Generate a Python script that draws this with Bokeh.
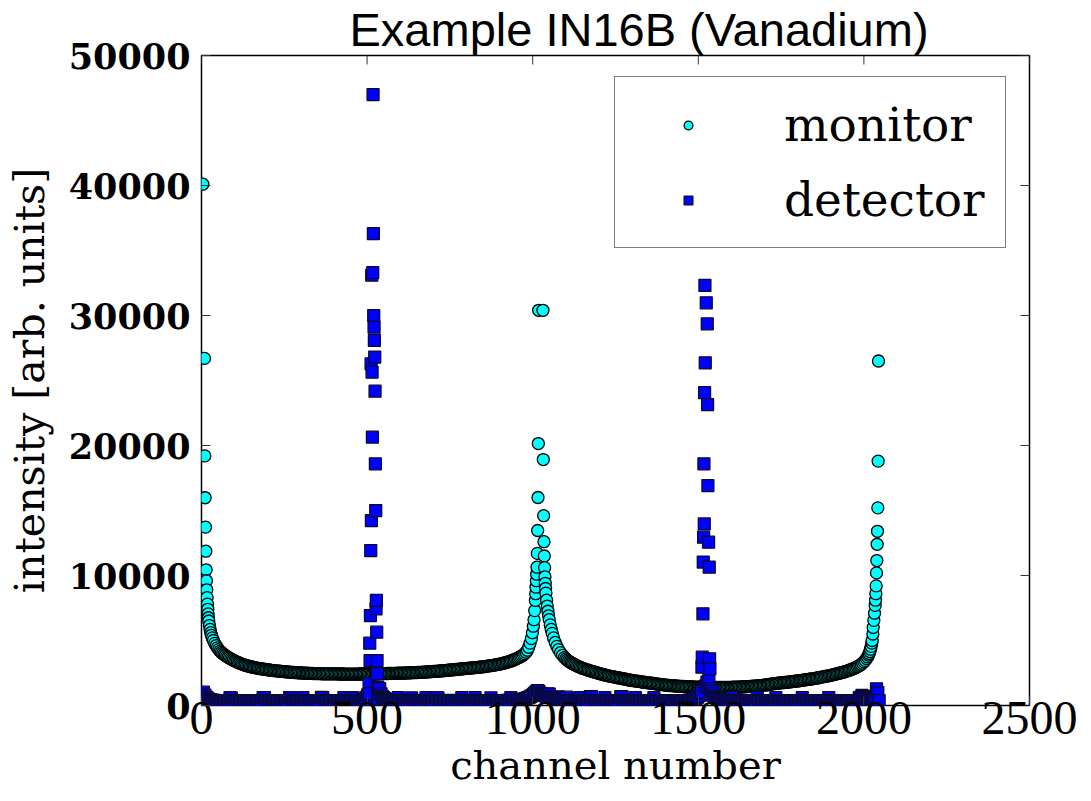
import math
from bokeh.plotting import figure
from bokeh.models import (Range1d, FixedTicker, Legend, LegendItem, ColumnDataSource)
from bokeh.embed import file_html
from bokeh.resources import INLINE

# ---------------- data ----------------
title_text = "Example IN16B (Vanadium)"
x_label = "channel number"
y_label = "intensity [arb. units]"
x_ticks = [0, 500, 1000, 1500, 2000, 2500]
y_ticks = [0, 10000, 20000, 30000, 40000, 50000]

# ---- monitor, first half ----
monitor_a_head_ch = [4, 9, 10, 11, 12, 13, 14, 15, 16, 17, 18, 19, 20, 21, 22,
                     24, 26, 28, 30, 33, 36, 40, 44, 48, 52, 56, 60]
monitor_a_head_counts = [40100, 26700, 19200, 15980, 13720, 11870, 10440, 9600, 8900, 8300, 7800, 7400,
                         7050, 6750, 6500, 6150, 5850, 5600, 5400, 5200, 5000, 4780, 4600, 4440, 4300,
                         4180, 4080]
monitor_a_flat_ch = list(range(64, 996, 4))
monitor_a_flat_counts = [
    4000, 3920, 3850, 3780, 3710, 3650, 3590, 3530, 3480, 3430, 3380, 3335, 3290, 3245, 3200, 3165,
    3130, 3100, 3070, 3040, 3010, 2985, 2960, 2940, 2920, 2900, 2880, 2860, 2840, 2825, 2810, 2795,
    2780, 2765, 2750, 2735, 2720, 2705, 2690, 2680, 2670, 2660, 2650, 2640, 2630, 2620, 2610, 2600,
    2590, 2580, 2570, 2560, 2550, 2545, 2540, 2530, 2525, 2515, 2510, 2505, 2500, 2495, 2490, 2485,
    2480, 2475, 2470, 2465, 2460, 2458, 2455, 2452, 2450, 2448, 2445, 2442, 2440, 2440, 2440, 2438,
    2435, 2435, 2435, 2432, 2430, 2430, 2430, 2428, 2425, 2425, 2425, 2422, 2420, 2420, 2420, 2420,
    2420, 2420, 2420, 2420, 2420, 2420, 2420, 2422, 2425, 2425, 2425, 2428, 2430, 2430, 2430, 2432,
    2435, 2438, 2440, 2440, 2440, 2442, 2445, 2448, 2450, 2452, 2455, 2458, 2460, 2462, 2465, 2468,
    2470, 2472, 2475, 2478, 2480, 2485, 2490, 2492, 2495, 2498, 2500, 2505, 2510, 2515, 2520, 2522,
    2525, 2530, 2535, 2540, 2545, 2550, 2555, 2560, 2565, 2572, 2580, 2588, 2595, 2602, 2610, 2618,
    2625, 2632, 2640, 2648, 2655, 2662, 2670, 2680, 2690, 2700, 2710, 2720, 2730, 2740, 2750, 2760,
    2770, 2780, 2790, 2800, 2810, 2820, 2830, 2840, 2850, 2860, 2870, 2880, 2890, 2900, 2910, 2920,
    2930, 2940, 2950, 2962, 2975, 2988, 3000, 3015, 3030, 3045, 3060, 3075, 3090, 3108, 3125, 3142,
    3160, 3180, 3200, 3225, 3250, 3280, 3310, 3340, 3370, 3405, 3440, 3480, 3520, 3565, 3610, 3660,
    3710, 3770, 3830, 3900, 3990, 4100, 4250, 4480, 4800]
monitor_a_tail_ch = [996, 999, 1002, 1004, 1006, 1008, 1009, 1010, 1011, 1012, 1013, 1014, 1015,
                     1016, 1017, 1018]
monitor_a_tail_counts = [5150, 5600, 6100, 6600, 7300, 8080, 8600, 9100, 9600, 10100, 10640, 11700,
                         13460, 16000, 20150, 30400]

# ---- monitor, second half ----
monitor_b_head_ch = [1031, 1032, 1033, 1034, 1035, 1036, 1037, 1038, 1039, 1040, 1042, 1044, 1046,
                     1048, 1050, 1053, 1056, 1059, 1063, 1068, 1073, 1078, 1084, 1090, 1096, 1100]
monitor_b_head_counts = [30400, 18920, 14600, 12600, 11500, 10600, 9900, 9400, 9000, 8650, 8100, 7650,
                         7250, 6900, 6600, 6200, 5850, 5550, 5200, 4850, 4550, 4300, 4060, 3860,
                         3690, 3590]
monitor_b_flat_ch = list(range(1104, 2004, 4))
monitor_b_flat_counts = [
    3500, 3420, 3350, 3290, 3230, 3175, 3120, 3070, 3020, 2975, 2930, 2890, 2850, 2815, 2780, 2745,
    2710, 2680, 2650, 2620, 2590, 2560, 2530, 2500, 2470, 2440, 2410, 2385, 2360, 2335, 2310, 2285,
    2260, 2240, 2220, 2200, 2180, 2160, 2140, 2120, 2100, 2080, 2060, 2040, 2020, 2000, 1980, 1960,
    1940, 1925, 1910, 1895, 1880, 1865, 1850, 1835, 1820, 1805, 1790, 1775, 1760, 1748, 1735, 1722,
    1710, 1698, 1685, 1668, 1650, 1638, 1625, 1612, 1600, 1588, 1575, 1562, 1550, 1540, 1530, 1522,
    1515, 1508, 1500, 1492, 1485, 1478, 1470, 1465, 1460, 1455, 1450, 1445, 1440, 1435, 1430, 1425,
    1420, 1415, 1410, 1408, 1405, 1402, 1400, 1398, 1395, 1392, 1390, 1390, 1390, 1388, 1385, 1385,
    1385, 1385, 1385, 1385, 1385, 1388, 1390, 1390, 1390, 1392, 1395, 1398, 1400, 1402, 1405, 1408,
    1410, 1415, 1420, 1425, 1430, 1435, 1440, 1445, 1450, 1458, 1465, 1472, 1480, 1488, 1495, 1502,
    1510, 1520, 1530, 1540, 1550, 1565, 1580, 1598, 1615, 1632, 1650, 1665, 1680, 1690, 1700, 1712,
    1725, 1738, 1750, 1760, 1770, 1780, 1790, 1802, 1815, 1828, 1840, 1852, 1865, 1878, 1890, 1905,
    1920, 1935, 1950, 1965, 1980, 1995, 2010, 2025, 2040, 2055, 2070, 2085, 2100, 2120, 2140, 2160,
    2180, 2200, 2220, 2240, 2260, 2280, 2300, 2325, 2350, 2375, 2400, 2425, 2450, 2475, 2500, 2525,
    2550, 2580, 2610, 2645, 2680, 2715, 2750, 2790, 2830, 2875, 2920, 2975, 3030, 3100, 3170, 3260,
    3360]
monitor_b_tail_ch = [2004, 2008, 2011, 2014, 2016, 2018, 2020, 2022, 2024, 2025, 2027, 2028, 2030,
                     2032, 2034, 2035, 2036, 2037, 2038, 2039, 2040, 2041, 2042, 2043, 2044]
monitor_b_tail_counts = [3470, 3610, 3740, 3880, 4000, 4150, 4330, 4550, 4800, 5000, 5500, 6000, 6550,
                         7100, 7700, 8100, 8600, 9200, 10200, 11150, 12400, 13400, 15200, 18800, 26500]

# ---- detector: background, every 4th channel from channel 2 ----
detector_base_ch = list(range(2, 2048, 4))
detector_base_counts = [
    900, 1020, 800, 650, 560, 480, 450, 420, 400, 390, 380, 370, 380, 370, 380, 370,
    380, 370, 380, 370, 380, 600, 580, 370, 380, 370, 380, 370, 380, 370, 380, 370,
    380, 370, 380, 370, 380, 370, 380, 370, 380, 370, 380, 370, 380, 370, 600, 610,
    380, 370, 380, 370, 380, 370, 380, 370, 380, 370, 380, 370, 380, 370, 380, 370,
    380, 370, 600, 590, 380, 370, 380, 370, 380, 370, 380, 370, 600, 380, 370, 380,
    370, 380, 370, 380, 370, 380, 370, 380, 370, 380, 620, 600, 380, 370, 380, 370,
    380, 370, 380, 370, 380, 370, 380, 370, 380, 370, 380, 600, 380, 370, 380, 370,
    380, 600, 590, 380, 370, 380, 370, 380, 390, 400, 430, 480, 620, 820, 1000, 1000,
    1000, 1000, 1000, 1000, 1000, 1000, 1300, 900, 700, 600, 520, 460, 420, 400, 390, 380,
    370, 380, 370, 380, 600, 380, 370, 380, 370, 380, 370, 380, 370, 380, 590, 380,
    370, 380, 370, 380, 370, 380, 390, 370, 380, 600, 380, 370, 380, 370, 380, 370,
    380, 600, 590, 380, 370, 380, 370, 380, 370, 380, 370, 380, 390, 380, 370, 380,
    370, 380, 370, 380, 600, 380, 370, 380, 370, 380, 370, 380, 370, 380, 600, 380,
    370, 380, 370, 380, 370, 380, 370, 380, 380, 370, 590, 380, 370, 380, 370, 380,
    370, 380, 370, 380, 370, 380, 390, 400, 380, 600, 380, 390, 400, 410, 420, 430,
    440, 460, 480, 500, 530, 560, 600, 640, 700, 760, 850, 950, 1050, 1150, 1100, 950,
    900, 850, 800, 750, 700, 900, 880, 650, 640, 600, 560, 520, 640, 650, 500, 470,
    450, 430, 420, 640, 400, 390, 380, 380, 370, 380, 370, 380, 370, 600, 380, 370,
    380, 370, 380, 370, 380, 690, 680, 380, 370, 380, 370, 380, 370, 380, 370, 380,
    600, 380, 370, 380, 370, 380, 370, 380, 370, 380, 370, 380, 680, 670, 380, 370,
    380, 370, 380, 370, 380, 370, 380, 600, 380, 370, 380, 370, 380, 370, 380, 370,
    380, 370, 380, 370, 380, 600, 380, 370, 380, 370, 380, 370, 380, 370, 380, 370,
    380, 370, 380, 370, 380, 370, 380, 370, 380, 370, 380, 370, 380, 370, 380, 390,
    400, 420, 440, 470, 500, 560, 640, 760, 950, 1000, 1000, 1000, 1500, 1800, 1400, 1000,
    1000, 1100, 900, 700, 600, 520, 470, 440, 420, 400, 390, 380, 380, 370, 380, 370,
    600, 380, 370, 380, 370, 380, 370, 380, 370, 380, 370, 380, 370, 380, 370, 380,
    370, 380, 370, 600, 380, 370, 380, 370, 380, 370, 380, 370, 380, 370, 380, 370,
    380, 600, 380, 370, 380, 370, 380, 370, 380, 370, 380, 370, 380, 370, 380, 370,
    380, 370, 380, 370, 380, 600, 380, 370, 380, 370, 380, 370, 380, 370, 380, 370,
    380, 370, 380, 370, 380, 370, 380, 370, 380, 600, 380, 370, 380, 370, 380, 370,
    380, 370, 380, 370, 380, 370, 380, 370, 380, 370, 380, 370, 380, 370, 380, 370,
    600, 620, 770, 700, 600, 520, 470, 440, 430, 450, 490, 560, 700, 1280, 1000, 380]

# ---- detector: elastic peaks ----
detector_peak1_ch = [506, 507, 508, 509, 510, 511, 512, 513, 514, 515, 516, 517, 518, 519, 520,
                     521, 522, 523, 524, 525, 526, 527, 528, 529, 530, 531, 532, 533, 534, 535]
detector_peak1_counts = [1670, 920, 4790, 3460, 6920, 11920, 26280, 14230, 33100, 25640, 20640, 33300,
                         47000, 36300, 30000, 29100, 28080, 26800, 24180, 18590, 15000, 7440, 8080,
                         5640, 3460, 2440, 1400, 900, 700, 500]
detector_peak2_ch = [1510, 1511, 1512, 1514, 1515, 1516, 1517, 1518, 1519, 1520, 1521, 1524, 1527,
                     1528, 1529, 1531, 1532, 1533, 1534, 1535, 1536, 1538]
detector_peak2_counts = [1020, 2950, 3720, 7050, 11030, 12950, 18590, 13970, 24060, 32310, 26360, 30980,
                         29360, 23150, 16920, 12560, 2050, 10640, 3590, 2820, 1300, 800]

# ---------------- assemble ----------------
pairs = [(monitor_a_head_ch, monitor_a_head_counts), (monitor_a_flat_ch, monitor_a_flat_counts),
         (monitor_a_tail_ch, monitor_a_tail_counts), (monitor_b_head_ch, monitor_b_head_counts),
         (monitor_b_flat_ch, monitor_b_flat_counts), (monitor_b_tail_ch, monitor_b_tail_counts),
         (detector_base_ch, detector_base_counts), (detector_peak1_ch, detector_peak1_counts),
         (detector_peak2_ch, detector_peak2_counts)]
for i, (a, b) in enumerate(pairs):
    assert len(a) == len(b), (i, len(a), len(b))

mon_x = (monitor_a_head_ch + monitor_a_flat_ch + monitor_a_tail_ch +
         monitor_b_head_ch + monitor_b_flat_ch + monitor_b_tail_ch)
mon_y = (monitor_a_head_counts + monitor_a_flat_counts + monitor_a_tail_counts +
         monitor_b_head_counts + monitor_b_flat_counts + monitor_b_tail_counts)

peak_set = set(detector_peak1_ch) | set(detector_peak2_ch)
det_pts = [(c, v) for c, v in zip(detector_base_ch, detector_base_counts) if c not in peak_set]
det_pts += list(zip(detector_peak1_ch, detector_peak1_counts))
det_pts += list(zip(detector_peak2_ch, detector_peak2_counts))
det_pts.sort()
det_x = [c for c, v in det_pts]
det_y = [v for c, v in det_pts]

# ---------------- figure ----------------
W, H = 1088, 798
FL, FT, FR, FB = 201, 55, 1029, 705      # frame edges in page pixels
X0, X1 = x_ticks[0], x_ticks[-1]
Y0, Y1 = y_ticks[0], y_ticks[-1]
p = figure(width=W, height=H, output_backend="svg", toolbar_location=None,
           x_range=Range1d(X0, X1), y_range=Range1d(Y0, Y1),
           min_border_left=FL, min_border_right=W - FR, min_border_top=FT,
           min_border_bottom=H - FB)
p.background_fill_color = "white"
p.border_fill_color = "white"
p.grid.visible = False
p.outline_line_color = "black"
p.outline_line_width = 1.5

p.title.text = title_text
p.title.text_font = "Liberation Sans"
p.title.text_font_size = "47px"
p.title.text_font_style = "normal"
p.title.text_color = "black"
p.title.align = "left"
p.title.offset = 148
p.title.standoff = 0

tick_col = "#333333"

p.xaxis.ticker = FixedTicker(ticks=x_ticks)
p.yaxis.ticker = FixedTicker(ticks=y_ticks)
for ax in (p.xaxis[0], p.yaxis[0]):
    ax.axis_line_color = None
    ax.major_tick_in = 9
    ax.major_tick_out = 0
    ax.major_tick_line_color = tick_col
    ax.major_tick_line_width = 1
    ax.minor_tick_line_color = None
    ax.axis_label_text_font_style = "normal"
    ax.axis_label_text_color = "black"
    ax.major_label_text_color = "black"

p.xaxis.axis_label = x_label
p.xaxis.axis_label_text_font = "DejaVu Serif"
p.xaxis.axis_label_text_font_size = "40px"
p.xaxis.axis_label_standoff = 5
p.xaxis.major_label_text_font = "Liberation Serif"
p.xaxis.major_label_text_font_size = "48px"
p.xaxis.major_label_standoff = -4

p.yaxis.axis_label = y_label
p.yaxis.axis_label_text_font = "DejaVu Serif"
p.yaxis.axis_label_text_font_size = "41px"
p.yaxis.axis_label_standoff = 12
p.yaxis.major_label_text_font = "DejaVu Serif"
p.yaxis.major_label_text_font_style = "bold"
p.yaxis.major_label_text_font_size = "35px"
p.yaxis.major_label_standoff = 11
p.yaxis.major_label_orientation = "horizontal"

# inward tick marks on the top and right spines (half of each dash is clipped by the frame)
top_src = ColumnDataSource(dict(x=x_ticks, y=[Y1] * len(x_ticks)))
right_src = ColumnDataSource(dict(x=[X1] * len(y_ticks), y=y_ticks))
p.scatter("x", "y", source=top_src, marker="dash", angle=math.pi / 2, size=18,
          line_color=tick_col, line_width=1)
p.scatter("x", "y", source=right_src, marker="dash", angle=0, size=18,
          line_color=tick_col, line_width=1)

src_mon = ColumnDataSource(dict(x=mon_x, y=mon_y))
src_det = ColumnDataSource(dict(x=det_x, y=det_y))
r_mon = p.scatter("x", "y", source=src_mon, marker="circle", size=12,
                  fill_color="#00ffff", line_color="black", line_width=1.3)
r_det = p.scatter("x", "y", source=src_det, marker="square", size=12,
                  fill_color="#0000ff", line_color="#0a0a30", line_width=1.25)

legend = Legend(items=[LegendItem(label="monitor", renderers=[r_mon]),
                       LegendItem(label="detector", renderers=[r_det])],
                location=(413, 457))
legend.label_text_font = "DejaVu Serif"
legend.label_text_font_size = "47px"
legend.label_text_color = "black"
legend.border_line_color = "black"
legend.border_line_width = 1.5
legend.background_fill_alpha = 1.0
legend.padding = 20
legend.spacing = 20
legend.margin = 0
legend.glyph_width = 106
legend.glyph_height = 22
legend.label_standoff = 43
p.add_layout(legend, "center")

open("out.html", "w").write(file_html(p, INLINE))
